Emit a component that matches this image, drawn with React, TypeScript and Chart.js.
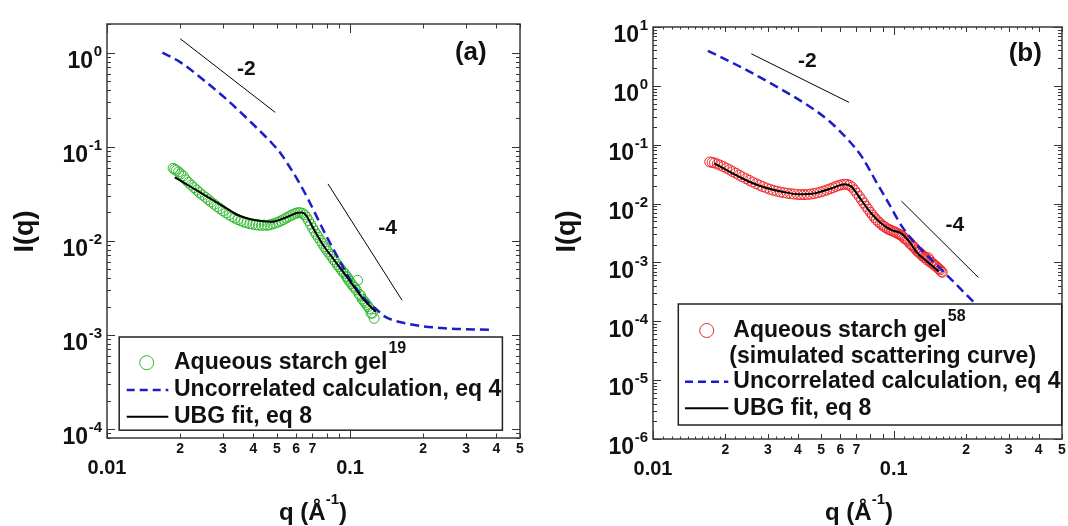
import React, { useEffect, useRef } from 'react';
import { Chart, registerables } from 'chart.js';

Chart.register(...registerables);

const FONT = "'Liberation Sans', Arial, Helvetica, sans-serif";
const BLUE = '#1c1cc8';
const GREEN = '#2fb82f';
const RED = '#ee2b2b';

// ---------------- shared axis ticks ----------------
const X_TICKS = [0.01, 0.02, 0.03, 0.04, 0.05, 0.06, 0.07, 0.08, 0.09, 0.1, 0.2, 0.3, 0.4, 0.5];
const X_TICK_LABELS = ['0.01', '2', '3', '4', '5', '6', '7', '', '', '0.1', '2', '3', '4', '5'];
const X_MAJOR_LABELS = ['0.01', '0.1'];
const MINOR_STEPS = [2, 3, 4, 5, 6, 7, 8, 9];

const LEGEND_DATA = 'Aqueous starch gel';
const LEGEND_SIM = '(simulated scattering curve)';
const LEGEND_CALC = 'Uncorrelated calculation, eq 4';
const LEGEND_FIT = 'UBG fit, eq 8';

// ---------------- panel (a) ----------------
const A_DATA_Q = [0.0187, 0.0190, 0.0193, 0.0197, 0.0201, 0.0206, 0.0211, 0.0216, 0.0222, 0.0228, 0.0234, 0.0240, 0.0247, 0.0254, 0.0261, 0.0268, 0.0276, 0.0284, 0.0292, 0.0300, 0.0309, 0.0318, 0.0327, 0.0336, 0.0346, 0.0356, 0.0366, 0.0376, 0.0387, 0.0398, 0.0409, 0.0420, 0.0432, 0.0444, 0.0456, 0.0468, 0.0480, 0.0493, 0.0506, 0.0519, 0.0532, 0.0545, 0.0558, 0.0571, 0.0584, 0.0597, 0.0610, 0.0623, 0.0636, 0.0649, 0.0662, 0.0675, 0.0688, 0.0701, 0.0714, 0.0727, 0.0740, 0.0754, 0.0768, 0.0782, 0.0796, 0.0810, 0.0825, 0.0840, 0.0855, 0.0870, 0.0885, 0.0900, 0.0916, 0.0932, 0.0948, 0.0964, 0.0976, 0.0980, 0.0996, 0.1012, 0.1028, 0.1044, 0.1060, 0.1073, 0.1090, 0.1106, 0.1122, 0.1138, 0.1154, 0.1170, 0.1186, 0.1203, 0.1219, 0.1236, 0.1256];
const A_DATA_I = [0.0590, 0.0575, 0.0560, 0.0540, 0.0515, 0.0488, 0.0445, 0.0418, 0.0392, 0.0368, 0.0346, 0.0326, 0.0307, 0.0290, 0.0274, 0.0259, 0.0245, 0.0231, 0.0219, 0.0208, 0.0198, 0.0189, 0.0181, 0.0174, 0.0168, 0.0163, 0.0158, 0.0155, 0.0152, 0.0150, 0.0148, 0.0147, 0.0146, 0.0147, 0.0146, 0.0148, 0.0151, 0.0154, 0.0158, 0.0163, 0.0168, 0.0174, 0.0180, 0.0186, 0.0191, 0.0196, 0.0199, 0.0199, 0.0196, 0.0189, 0.0178, 0.0164, 0.0150, 0.0137, 0.0126, 0.0117, 0.0109, 0.0101, 0.0094, 0.0087, 0.0082, 0.0077, 0.0072, 0.0068, 0.0063, 0.0060, 0.0056, 0.0053, 0.0050, 0.0047, 0.0045, 0.0042, 0.0041, 0.0039, 0.0037, 0.0035, 0.0033, 0.0032, 0.0030, 0.0038, 0.0027, 0.0026, 0.0024, 0.0023, 0.0022, 0.0021, 0.0020, 0.0019, 0.0017, 0.0017, 0.0015];
const A_CALC_Q = [0.0169, 0.0200, 0.0251, 0.0304, 0.0393, 0.0440, 0.0477, 0.0520, 0.0553, 0.0608, 0.0669, 0.0735, 0.0808, 0.0888, 0.0975, 0.1072, 0.1178, 0.1295, 0.138, 0.173, 0.239, 0.374];
const A_CALC_I = [1.00, 0.794, 0.506, 0.335, 0.180, 0.135, 0.109, 0.084, 0.066, 0.0445, 0.0283, 0.0173, 0.0106, 0.00676, 0.00431, 0.00299, 0.00225, 0.00183, 0.00158, 0.00131, 0.00118, 0.00113];
const A_FIT_Q = [0.0190, 0.0215, 0.0252, 0.0295, 0.0345, 0.0404, 0.0473, 0.0553, 0.0608, 0.0632, 0.0658, 0.0712, 0.0783, 0.0861, 0.0946, 0.1039, 0.1143, 0.1276];
const A_FIT_I = [0.0472, 0.0392, 0.0306, 0.0240, 0.0188, 0.0166, 0.0159, 0.0180, 0.0199, 0.0200, 0.0188, 0.0130, 0.00863, 0.00623, 0.0045, 0.00324, 0.00234, 0.00176];
const A_SLOPE2_Q = [0.0200, 0.0492];
const A_SLOPE2_I = [1.41, 0.232];
const A_SLOPE4_Q = [0.0811, 0.1637];
const A_SLOPE4_I = [0.0403, 0.00233];
const A_Y_DECADES = [1e-4, 1e-3, 1e-2, 1e-1, 1];
const A_Y_EXPONENTS = ['-4', '-3', '-2', '-1', '0'];

// ---------------- panel (b) ----------------
const B_DATA_Q = [0.0172, 0.0176, 0.0180, 0.0185, 0.0190, 0.0196, 0.0202, 0.0208, 0.0214, 0.0221, 0.0228, 0.0235, 0.0243, 0.0251, 0.0259, 0.0268, 0.0277, 0.0286, 0.0296, 0.0306, 0.0316, 0.0327, 0.0338, 0.0349, 0.0361, 0.0373, 0.0385, 0.0398, 0.0411, 0.0424, 0.0438, 0.0452, 0.0466, 0.0481, 0.0496, 0.0511, 0.0527, 0.0543, 0.0559, 0.0575, 0.0591, 0.0607, 0.0623, 0.0639, 0.0655, 0.0671, 0.0687, 0.0703, 0.0719, 0.0735, 0.0751, 0.0767, 0.0783, 0.0799, 0.0815, 0.0831, 0.0847, 0.0863, 0.0879, 0.0895, 0.0911, 0.0927, 0.0943, 0.0959, 0.0975, 0.0991, 0.1007, 0.1023, 0.1039, 0.1055, 0.1071, 0.1087, 0.1103, 0.1119, 0.1135, 0.1151, 0.1167, 0.1183, 0.1199, 0.1215, 0.1231, 0.1247, 0.1263, 0.1279, 0.1295, 0.1311, 0.1327, 0.1343, 0.1359, 0.1375, 0.1391, 0.1407, 0.1423, 0.1440, 0.1456, 0.1473, 0.1490, 0.1507, 0.1524, 0.1541, 0.1558, 0.1575, 0.1590];
const B_DATA_I = [0.0510, 0.0500, 0.0490, 0.0470, 0.0450, 0.0425, 0.0400, 0.0375, 0.0350, 0.0328, 0.0305, 0.0285, 0.0265, 0.0248, 0.0232, 0.0218, 0.0205, 0.0194, 0.0184, 0.0175, 0.0168, 0.0162, 0.0157, 0.0153, 0.0150, 0.0147, 0.0145, 0.0143, 0.0142, 0.0142, 0.0143, 0.0145, 0.0148, 0.0152, 0.0157, 0.0163, 0.0170, 0.0178, 0.0186, 0.0195, 0.0203, 0.0209, 0.0213, 0.0212, 0.0205, 0.0190, 0.0170, 0.0150, 0.0132, 0.0116, 0.0102, 0.0090, 0.0080, 0.0071, 0.0064, 0.0058, 0.0053, 0.0049, 0.0046, 0.0043, 0.0041, 0.0039, 0.0037, 0.0036, 0.0035, 0.0034, 0.0033, 0.0032, 0.0031, 0.0030, 0.0029, 0.0028, 0.0026, 0.0025, 0.0024, 0.0023, 0.0021, 0.0020, 0.0019, 0.0018, 0.0017, 0.0016, 0.0015, 0.0015, 0.0014, 0.0013, 0.0013, 0.0012, 0.0012, 0.0011, 0.0012, 0.0011, 0.0010, 0.0010, 0.00095, 0.00090, 0.00088, 0.00085, 0.00080, 0.00078, 0.00075, 0.00070, 0.00068];
const B_CALC_Q = [0.0169, 0.0224, 0.0310, 0.0428, 0.0536, 0.0650, 0.0740, 0.0841, 0.0957, 0.1090, 0.1280, 0.1550, 0.1820, 0.2134, 0.3000, 0.4000, 0.5000];
const B_CALC_I = [3.94, 2.24, 1.09, 0.50, 0.258, 0.118, 0.061, 0.0244, 0.0098, 0.0039, 0.00177, 0.00081, 0.00042, 0.000218, 0.000056, 0.0000177, 0.0000072];
const B_FIT_Q = [0.0180, 0.0214, 0.0251, 0.0294, 0.0344, 0.0403, 0.0472, 0.0552, 0.0627, 0.0667, 0.0733, 0.0806, 0.0886, 0.0975, 0.1072, 0.1160, 0.1256, 0.1380, 0.1540];
const B_FIT_I = [0.0483, 0.0327, 0.0235, 0.0186, 0.0159, 0.0144, 0.0150, 0.0182, 0.0213, 0.0194, 0.0115, 0.00685, 0.00464, 0.00357, 0.00314, 0.00226, 0.00144, 0.00103, 0.00070];
const B_SLOPE2_Q = [0.0256, 0.0652];
const B_SLOPE2_I = [3.51, 0.524];
const B_SLOPE4_Q = [0.1077, 0.2249];
const B_SLOPE4_I = [0.0110, 0.000553];
const B_Y_DECADES = [1e-6, 1e-5, 1e-4, 1e-3, 1e-2, 1e-1, 1, 10];
const B_Y_EXPONENTS = ['-6', '-5', '-4', '-3', '-2', '-1', '0', '1'];
const B_X_SUBTICKS = [0.011, 0.012, 0.013, 0.014, 0.015, 0.016, 0.017, 0.018, 0.019, 0.022, 0.024, 0.026, 0.028, 0.0325, 0.035, 0.0375, 0.11, 0.12, 0.13, 0.14, 0.15, 0.16, 0.17, 0.18, 0.19, 0.22, 0.24, 0.26, 0.28, 0.325, 0.35, 0.375];

type Row = { kind: 'circle' | 'dash' | 'line' | 'none'; color?: string; x1?: number; x2?: number; y: number; text: string; tx: number; sup?: string };

const PANELS: any[] = [
  {
    id: 'a', offsetX: 0, yAxisWidth: 107, xAxisHeight: 88, padTop: 24, padRight: 14,
    xMin: 0.01, xMax: 0.5, yMin: 8e-5, yMax: 2.02,
    dataQ: A_DATA_Q, dataI: A_DATA_I, dataColor: GREEN,
    calcQ: A_CALC_Q, calcI: A_CALC_I, fitQ: A_FIT_Q, fitI: A_FIT_I,
    s2Q: A_SLOPE2_Q, s2I: A_SLOPE2_I, s4Q: A_SLOPE4_Q, s4I: A_SLOPE4_I,
    yDecades: A_Y_DECADES, yExp: A_Y_EXPONENTS, xSubTicks: [] as number[],
    xMajorLen: 9, xMinorLen: 4.5, xSubLen: 2.5,
    labels: [
      { text: '-2', q: 0.0374, i: 0.674, size: 21 },
      { text: '-4', q: 0.1426, i: 0.0136, size: 21 },
      { text: '(a)', q: 0.3137, i: 0.99, size: 26 },
    ],
    yTitle: { x: 25.5, y: 231.5 }, xTitle: { x: 313, y: 513 },
    legend: {
      box: [119.2, 337, 502.4, 430.2],
      rows: [
        { kind: 'circle', color: GREEN, x1: 146.7, y: 362.7, text: LEGEND_DATA, tx: 174, sup: '19' },
        { kind: 'dash', x1: 126.7, x2: 168.3, y: 390, text: LEGEND_CALC, tx: 174 },
        { kind: 'line', x1: 126.7, x2: 168.3, y: 416.7, text: LEGEND_FIT, tx: 174 },
      ] as Row[],
    },
  },
  {
    id: 'b', offsetX: 534, yAxisWidth: 119, xAxisHeight: 87, padTop: 27, padRight: 2,
    xMin: 0.01, xMax: 0.5, yMin: 1e-6, yMax: 10,
    dataQ: B_DATA_Q, dataI: B_DATA_I, dataColor: RED,
    calcQ: B_CALC_Q, calcI: B_CALC_I, fitQ: B_FIT_Q, fitI: B_FIT_I,
    s2Q: B_SLOPE2_Q, s2I: B_SLOPE2_I, s4Q: B_SLOPE4_Q, s4I: B_SLOPE4_I,
    yDecades: B_Y_DECADES, yExp: B_Y_EXPONENTS, xSubTicks: B_X_SUBTICKS,
    xMajorLen: 8, xMinorLen: 5, xSubLen: 2.5,
    labels: [
      { text: '-2', q: 0.0438, i: 2.59, size: 21 },
      { text: '-4', q: 0.1793, i: 0.00428, size: 21 },
      { text: '(b)', q: 0.352, i: 3.51, size: 26 },
    ],
    yTitle: { x: 34, y: 231.5 }, xTitle: { x: 325, y: 513 },
    legend: {
      box: [144.3, 304, 527.7, 425],
      rows: [
        { kind: 'circle', color: RED, x1: 172.7, y: 330.5, text: LEGEND_DATA, tx: 199.3, sup: '58' },
        { kind: 'none', y: 356.7, text: LEGEND_SIM, tx: 195.3 },
        { kind: 'dash', x1: 151, x2: 194.3, y: 381.7, text: LEGEND_CALC, tx: 199.3 },
        { kind: 'line', x1: 151, x2: 194.3, y: 408.3, text: LEGEND_FIT, tx: 199.3 },
      ] as Row[],
    },
  },
];

function buildYTicks(decades: number[], min: number, max: number) {
  const out: { value: number; major: boolean }[] = [];
  const bases = [decades[0] / 10, ...decades];
  bases.forEach((d, k) => {
    if (k > 0 && d >= min && d <= max) out.push({ value: d, major: true });
    MINOR_STEPS.forEach((m) => {
      const v = d * m;
      if (v >= min && v <= max) out.push({ value: v, major: false });
    });
  });
  return out.sort((a, b) => a.value - b.value);
}

function txt(ctx: CanvasRenderingContext2D, s: string, x: number, y: number, size: number, align: CanvasTextAlign = 'left') {
  ctx.font = `bold ${size}px ${FONT}`;
  ctx.textAlign = align;
  ctx.textBaseline = 'middle';
  ctx.fillStyle = '#111';
  ctx.fillText(s, x, y);
  return ctx.measureText(s).width;
}

function makePlugin(p: any) {
  return {
    id: 'panelDecor' + p.id,
    beforeDatasetsDraw(chart: any) {
      const { ctx, chartArea: a } = chart;
      const xs = chart.scales.x;
      const ys = chart.scales.y;
      ctx.save();
      ctx.strokeStyle = '#333';
      ctx.lineWidth = 1;
      ctx.beginPath();
      const vline = (v: number, len: number) => {
        const x = Math.round(xs.getPixelForValue(v)) + 0.5;
        ctx.moveTo(x, a.bottom); ctx.lineTo(x, a.bottom - len);
        ctx.moveTo(x, a.top); ctx.lineTo(x, a.top + len);
      };
      X_TICKS.forEach((v, i) => vline(v, X_MAJOR_LABELS.includes(X_TICK_LABELS[i]) ? p.xMajorLen : p.xMinorLen));
      p.xSubTicks.forEach((v: number) => vline(v, p.xSubLen));
      ys.ticks.forEach((t: any) => {
        const y = Math.round(ys.getPixelForValue(t.value)) + 0.5;
        const len = t.major ? 8 : 4;
        ctx.moveTo(a.left, y); ctx.lineTo(a.left + len, y);
        ctx.moveTo(a.right, y); ctx.lineTo(a.right - len, y);
      });
      ctx.stroke();
      ctx.restore();
    },
    afterDatasetsDraw(chart: any) {
      const { ctx, chartArea: a } = chart;
      const xs = chart.scales.x;
      const ys = chart.scales.y;
      ctx.save();
      // frame
      ctx.strokeStyle = '#3a3a3a';
      ctx.lineWidth = 1.5;
      ctx.strokeRect(a.left, a.top, a.right - a.left, a.bottom - a.top);

      // slope labels and panel tag
      p.labels.forEach((l: any) => txt(ctx, l.text, xs.getPixelForValue(l.q), ys.getPixelForValue(l.i), l.size, 'center'));

      // legend
      const L = p.legend;
      const [bl, bt, br, bb] = L.box;
      ctx.fillStyle = '#fff';
      ctx.fillRect(bl, bt, br - bl, bb - bt);
      ctx.strokeStyle = '#222';
      ctx.lineWidth = 1.5;
      ctx.strokeRect(bl, bt, br - bl, bb - bt);
      L.rows.forEach((r: Row) => {
        if (r.kind === 'circle') {
          ctx.beginPath();
          ctx.arc(r.x1!, r.y, 7, 0, Math.PI * 2);
          ctx.strokeStyle = r.color!;
          ctx.lineWidth = 1;
          ctx.stroke();
        } else if (r.kind === 'dash') {
          ctx.beginPath();
          ctx.setLineDash([8, 5]);
          ctx.moveTo(r.x1!, r.y); ctx.lineTo(r.x2!, r.y);
          ctx.strokeStyle = BLUE; ctx.lineWidth = 2.5;
          ctx.stroke();
          ctx.setLineDash([]);
        } else if (r.kind === 'line') {
          ctx.beginPath();
          ctx.moveTo(r.x1!, r.y); ctx.lineTo(r.x2!, r.y);
          ctx.strokeStyle = '#000'; ctx.lineWidth = 2;
          ctx.stroke();
        }
        const w = txt(ctx, r.text, r.tx, r.y, 23);
        if (r.sup) txt(ctx, r.sup, r.tx + w + 1, r.y - 14, 16);
      });

      // y tick labels 10^n
      p.yDecades.forEach((d: number, i: number) => {
        const y = ys.getPixelForValue(d);
        const right = a.left - 5;
        ctx.font = `bold 15px ${FONT}`;
        const we = ctx.measureText(p.yExp[i]).width;
        txt(ctx, p.yExp[i], right - we, y - 1, 15);
        txt(ctx, '10', right - we - 0.5, y + 9, 23, 'right');
      });

      // y title
      ctx.save();
      ctx.translate(p.yTitle.x, p.yTitle.y);
      ctx.rotate(-Math.PI / 2);
      txt(ctx, 'I(q)', 0, 0, 27, 'center');
      ctx.restore();

      // x title: q (Å^-1)
      ctx.font = `bold 24px ${FONT}`;
      const w1 = ctx.measureText('q (Å').width;
      const w3 = ctx.measureText(')').width;
      ctx.font = `bold 15px ${FONT}`;
      const w2 = ctx.measureText('-1').width;
      let x0 = p.xTitle.x - (w1 + w2 + w3) / 2;
      txt(ctx, 'q (Å', x0, p.xTitle.y, 24);
      x0 += w1;
      txt(ctx, '-1', x0, p.xTitle.y - 13, 15);
      x0 += w2;
      txt(ctx, ')', x0, p.xTitle.y, 24);
      ctx.restore();
    },
  };
}

function buildConfig(p: any): any {
  const pts = (q: number[], v: number[]) => q.map((x, i) => ({ x, y: v[i] }));
  const yTicks = buildYTicks(p.yDecades, p.yMin, p.yMax);
  return {
    type: 'scatter',
    data: {
      datasets: [
        { label: LEGEND_FIT, data: pts(p.fitQ, p.fitI), showLine: true, borderColor: '#000', borderWidth: 2, pointRadius: 0, cubicInterpolationMode: 'monotone', order: 0 },
        { label: LEGEND_CALC, data: pts(p.calcQ, p.calcI), showLine: true, borderColor: BLUE, borderWidth: 2.5, borderDash: [9, 5], pointRadius: 0, cubicInterpolationMode: 'monotone', order: 1 },
        { label: LEGEND_DATA, data: pts(p.dataQ, p.dataI), showLine: false, pointStyle: 'circle', pointRadius: 5, pointBorderWidth: 1, borderColor: p.dataColor, backgroundColor: 'rgba(0,0,0,0)', order: 2 },
        { label: 'slope -2', data: pts(p.s2Q, p.s2I), showLine: true, borderColor: '#000', borderWidth: 1, pointRadius: 0, order: 3 },
        { label: 'slope -4', data: pts(p.s4Q, p.s4I), showLine: true, borderColor: '#000', borderWidth: 1, pointRadius: 0, order: 3 },
      ],
    },
    options: {
      responsive: false,
      maintainAspectRatio: false,
      animation: false,
      events: [],
      layout: { padding: { left: 0, right: p.padRight, top: p.padTop, bottom: 0 } },
      plugins: { legend: { display: false }, tooltip: { enabled: false }, title: { display: false } },
      scales: {
        x: {
          type: 'logarithmic',
          min: p.xMin,
          max: p.xMax,
          bounds: 'data',
          grid: { display: false, drawTicks: false },
          border: { display: false },
          afterBuildTicks: (s: any) => {
            s.ticks = X_TICKS.map((v, i) => ({ value: v, major: X_MAJOR_LABELS.includes(X_TICK_LABELS[i]) }));
          },
          afterFit: (s: any) => {
            s.height = p.xAxisHeight;
            s.paddingLeft = 0;
            s.paddingRight = 0;
          },
          ticks: {
            autoSkip: false,
            maxRotation: 0,
            minRotation: 0,
            padding: 3,
            color: '#111',
            callback: (_v: any, i: number) => {
              const l = X_TICK_LABELS[i];
              return X_MAJOR_LABELS.includes(l) ? ['', l] : l;
            },
            font: (c: any) =>
              X_MAJOR_LABELS.includes(X_TICK_LABELS[c.index])
                ? { family: FONT, size: 20, weight: 'bold', lineHeight: 0.9 }
                : { family: FONT, size: 14, weight: 'bold' },
          },
        },
        y: {
          type: 'logarithmic',
          min: p.yMin,
          max: p.yMax,
          bounds: 'data',
          grid: { display: false, drawTicks: false },
          border: { display: false },
          afterBuildTicks: (s: any) => {
            s.ticks = yTicks.map((t) => ({ value: t.value, major: t.major }));
          },
          afterFit: (s: any) => {
            s.width = p.yAxisWidth;
            s.paddingTop = 0;
            s.paddingBottom = 0;
          },
          ticks: { display: false },
        },
      },
    },
    plugins: [makePlugin(p)],
  };
}

function Panel({ p }: { p: any }) {
  const ref = useRef<HTMLCanvasElement>(null);
  useEffect(() => {
    const chart = new Chart(ref.current as HTMLCanvasElement, buildConfig(p));
    return () => chart.destroy();
  }, [p]);
  return (
    <canvas
      ref={ref}
      width={534}
      height={526}
      style={{ position: 'absolute', left: p.offsetX, top: 0, width: 534, height: 526 }}
    />
  );
}

export default function App() {
  return (
    <div style={{ position: 'absolute', left: 0, top: 0, width: 1068, height: 526, background: '#fff', overflow: 'hidden' }}>
      {PANELS.map((p) => (
        <Panel key={p.id} p={p} />
      ))}
    </div>
  );
}
